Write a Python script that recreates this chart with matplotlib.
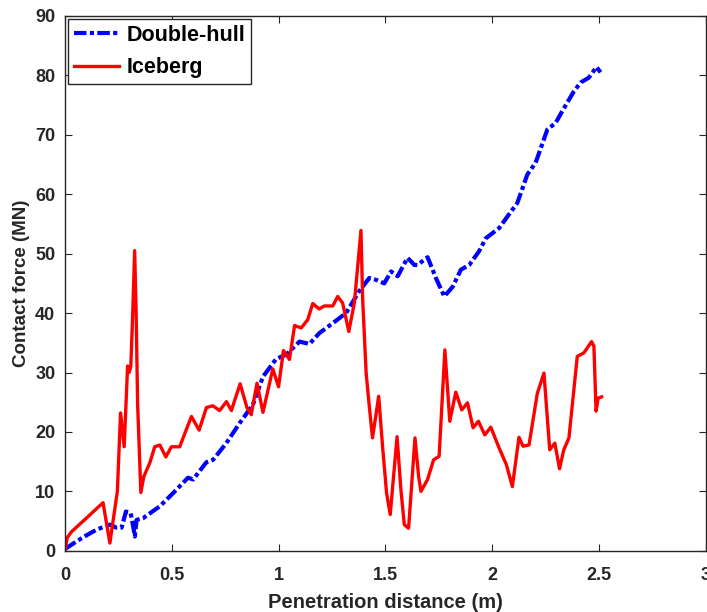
import numpy as np
import matplotlib.pyplot as plt

plt.rcParams['font.family'] = ['Liberation Sans', 'DejaVu Sans']
plt.rcParams['font.weight'] = 'bold'

# Double-hull contact force (MN) vs penetration (m)
hull_x = [0.0, 0.05, 0.1, 0.15, 0.21, 0.24, 0.265, 0.285, 0.307, 0.319, 0.327, 0.335,
          0.366, 0.444, 0.506, 0.576, 0.6, 0.662, 0.693, 0.755, 0.818, 0.88, 0.927,
          0.989, 1.036, 1.098, 1.145, 1.19, 1.254, 1.316, 1.378, 1.425, 1.456, 1.495,
          1.527, 1.558, 1.604, 1.636, 1.651, 1.698, 1.737, 1.776, 1.815, 1.854, 1.893,
          1.939, 1.971, 2.033, 2.079, 2.118, 2.165, 2.204, 2.259, 2.298, 2.329, 2.383,
          2.415, 2.453, 2.489, 2.508]
hull_y = [0.3, 1.5, 2.6, 3.6, 4.4, 3.9, 3.9, 6.6, 6.4, 4.1, 2.4, 5.2,
          5.5, 7.5, 9.7, 12.3, 12.0, 14.9, 15.3, 18.1, 21.5, 24.6, 29.3,
          32.3, 33.0, 35.2, 34.8, 36.6, 38.3, 40.0, 43.7, 45.9, 45.6, 45.0,
          47.0, 46.2, 49.3, 48.1, 48.1, 49.4, 45.9, 42.8, 44.4, 47.3, 48.1,
          50.4, 52.6, 54.3, 56.6, 58.5, 63.3, 65.3, 70.9, 72.0, 74.0, 77.3,
          78.8, 79.6, 81.4, 80.5]

# Iceberg contact force (MN) vs penetration (m)
ice_x = [0.0, 0.01, 0.03, 0.1, 0.178, 0.21, 0.245, 0.26, 0.277, 0.293, 0.3, 0.308,
         0.316, 0.326, 0.333, 0.34, 0.355, 0.369, 0.397, 0.42, 0.444, 0.472, 0.498,
         0.537, 0.568, 0.592, 0.628, 0.662, 0.692, 0.724, 0.756, 0.779, 0.82, 0.852,
         0.872, 0.899, 0.927, 0.973, 1.0, 1.023, 1.051, 1.075, 1.106, 1.137, 1.16,
         1.19, 1.215, 1.254, 1.277, 1.3, 1.329, 1.355, 1.386, 1.394, 1.41, 1.425,
         1.44, 1.469, 1.487, 1.506, 1.523, 1.555, 1.573, 1.589, 1.609, 1.639, 1.656,
         1.667, 1.698, 1.726, 1.752, 1.779, 1.802, 1.83, 1.858, 1.885, 1.911, 1.936,
         1.966, 1.994, 2.033, 2.067, 2.095, 2.126, 2.145, 2.173, 2.212, 2.243, 2.27,
         2.294, 2.316, 2.336, 2.36, 2.399, 2.43, 2.466, 2.477, 2.487, 2.497, 2.513]
ice_y = [0.0, 2.2, 3.2, 5.5, 8.1, 1.3, 10.0, 23.2, 17.5, 31.1, 30.0, 31.0,
         38.9, 50.5, 40.0, 24.6, 9.8, 12.5, 14.8, 17.5, 17.8, 15.8, 17.5,
         17.5, 20.4, 22.6, 20.3, 24.1, 24.4, 23.6, 25.1, 23.6, 28.1, 24.1,
         22.9, 28.2, 23.3, 30.6, 27.6, 33.7, 32.2, 37.9, 37.5, 38.9, 41.6,
         40.7, 41.2, 41.2, 42.8, 41.7, 36.9, 41.7, 53.9, 42.3, 30.0, 24.3,
         19.0, 26.0, 17.6, 9.7, 6.1, 19.2, 10.3, 4.4, 3.8, 19.0, 12.5,
         10.0, 12.0, 15.3, 15.9, 33.8, 21.8, 26.7, 23.7, 24.9, 20.7, 21.8,
         19.5, 20.8, 17.3, 14.5, 10.8, 19.1, 17.6, 17.8, 26.5, 29.9, 17.0,
         18.1, 13.8, 17.0, 19.0, 32.7, 33.3, 35.2, 34.4, 23.5, 25.7, 25.9]

fig = plt.figure(figsize=(7.07, 6.12), dpi=100)
ax = fig.add_axes([0.092, 0.1, 0.906, 0.874])

ax.plot(hull_x, hull_y, color='blue', linewidth=3, linestyle=(0, (3, 0.8, 1, 0.8)),
        label='Double-hull')
ax.plot(ice_x, ice_y, color='red', linewidth=2.4, label='Iceberg')

ax.set_xlim(0, 3)
ax.set_ylim(0, 90)
ax.set_xticks([0, 0.5, 1, 1.5, 2, 2.5, 3])
ax.set_xticklabels(['0', '0.5', '1', '1.5', '2', '2.5', '3'])
ax.set_yticks(np.arange(0, 91, 10))
ax.tick_params(direction='in', top=True, right=True, length=5, width=0.8,
               labelsize=13, colors='#262626')
ax.tick_params(axis='x', pad=12)
ax.tick_params(axis='y', pad=7)
for s in ax.spines.values():
    s.set_color('#262626')
    s.set_linewidth(1.0)

ax.set_xlabel('Penetration distance (m)', fontsize=14.5, fontweight='bold',
              color='#262626', labelpad=6)
ax.set_ylabel('Contact force (MN)', fontsize=13.5, fontweight='bold', color='#262626')

leg = ax.legend(loc='upper left', fontsize=15.5, frameon=True, fancybox=False,
                borderaxespad=0.15, handlelength=2.1, borderpad=0.25,
                labelspacing=0.55, handletextpad=0.35)
leg.get_frame().set_edgecolor('#262626')
leg.get_frame().set_linewidth(1.0)
leg.get_frame().set_alpha(1)

fig.savefig('out.png', dpi=100)
